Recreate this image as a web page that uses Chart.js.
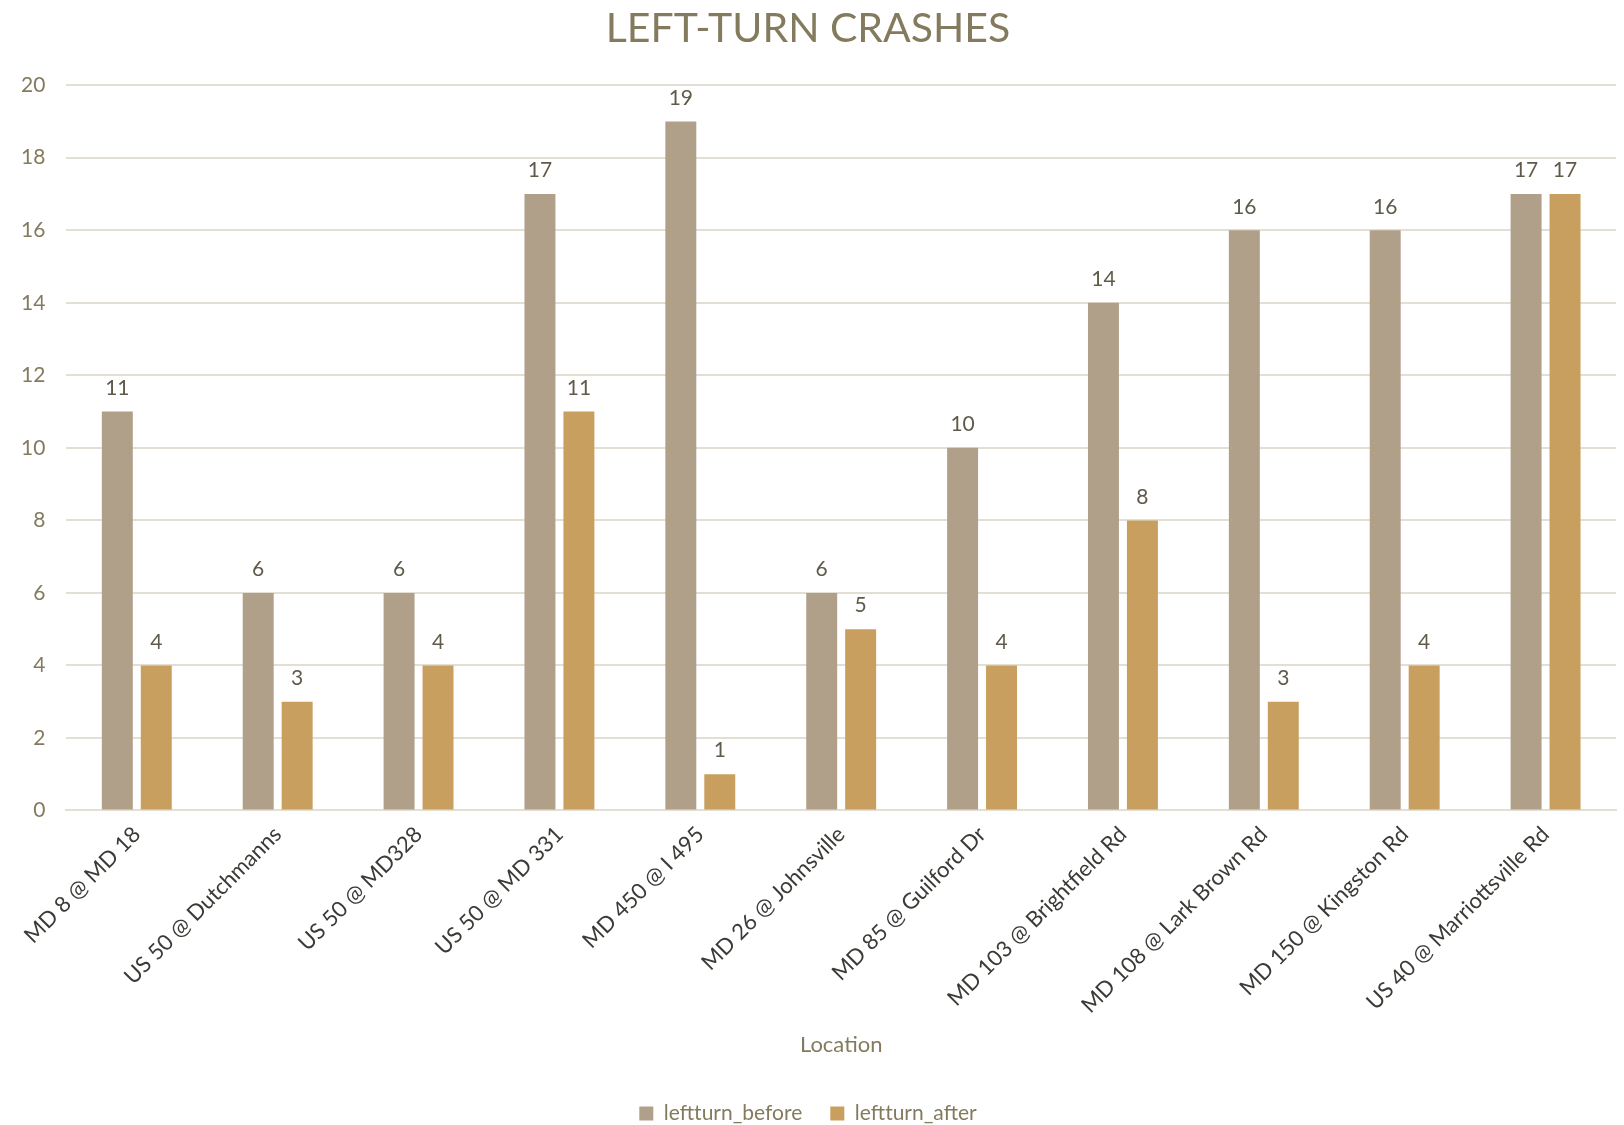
<!DOCTYPE html>
<html>
<head>
<meta charset="utf-8">
<title>Left-turn crashes</title>
<script src="https://cdn.jsdelivr.net/npm/chart.js@4/dist/chart.umd.min.js"></script>
<style>
  html, body { margin: 0; padding: 0; background: #fff; }
  #wrap { width: 1624px; height: 1125px; }
</style>
</head>
<body>
<div id="wrap"><canvas id="crashChart" width="1624" height="1125"></canvas></div>
<script>
'use strict';

var locations = [
    'MD 8 @ MD 18', 'US 50 @ Dutchmanns', 'US 50 @ MD328', 'US 50 @ MD 331',
    'MD 450 @ I 495', 'MD 26 @ Johnsville', 'MD 85 @ Guilford Dr',
    'MD 103 @ Brightfield Rd', 'MD 108 @ Lark Brown Rd', 'MD 150 @ Kingston Rd',
    'US 40 @ Marriottsville Rd'
];
var leftturnBefore = [11, 6, 6, 17, 19, 6, 10, 14, 16, 16, 17];
var leftturnAfter = [4, 3, 4, 11, 1, 5, 4, 8, 3, 4, 17];
var yTicks = [0, 2, 4, 6, 8, 10, 12, 14, 16, 18, 20];

var fontFamily = 'Lato, "Noto Sans", sans-serif';

// draw the value above each bar
var valueLabels = {
    id: 'valueLabels',
    afterDatasetsDraw: function (chart) {
        var ctx = chart.ctx;
        ctx.save();
        ctx.font = '21px ' + fontFamily;
        ctx.fillStyle = '#5f5a4a';
        ctx.textAlign = 'center';
        ctx.textBaseline = 'bottom';
        chart.data.datasets.forEach(function (ds, i) {
            var meta = chart.getDatasetMeta(i);
            meta.data.forEach(function (bar, j) {
                ctx.fillText(ds.data[j], bar.x, bar.y - 13);
            });
        });
        ctx.restore();
    }
};

var ctx = document.getElementById('crashChart');
var chart = new Chart(ctx, {
    type: 'bar',
    data: {
        labels: locations,
        datasets: [{
            label: 'leftturn_before',
            data: leftturnBefore,
            backgroundColor: '#b0a08a',
            categoryPercentage: 0.553,
            barPercentage: 0.795
        }, {
            label: 'leftturn_after',
            data: leftturnAfter,
            backgroundColor: '#c89f5e',
            categoryPercentage: 0.553,
            barPercentage: 0.795
        }]
    },
    options: {
        responsive: false,
        animation: false,
        layout: { padding: { left: 0, right: 8, top: 0, bottom: 0 } },
        plugins: {
            title: {
                display: true,
                text: 'LEFT-TURN CRASHES',
                color: '#847b5e',
                font: { family: fontFamily, size: 41, weight: 'normal' },
                padding: { top: 4, bottom: 32 }
            },
            legend: {
                position: 'bottom',
                maxHeight: 50,
                labels: {
                    color: '#847b5e',
                    font: { family: fontFamily, size: 21 },
                    boxWidth: 14,
                    boxHeight: 14,
                    padding: 28
                }
            },
            tooltip: { enabled: false }
        },
        scales: {
            x: {
                grid: { display: false },
                border: { color: '#e3e0d3', width: 2 },
                ticks: {
                    color: '#3b3a36',
                    font: { family: fontFamily, size: 22 },
                    minRotation: 45,
                    maxRotation: 45,
                    autoSkip: false
                },
                title: {
                    display: true,
                    text: 'Location',
                    color: '#847b5e',
                    font: { family: fontFamily, size: 22 },
                    padding: { top: 10, bottom: 17 }
                }
            },
            y: {
                min: 0,
                max: 20,
                afterBuildTicks: function (axis) {
                    axis.ticks = yTicks.map(function (v) { return { value: v }; });
                },
                grid: { color: '#e3e0d3', lineWidth: 2, drawTicks: false },
                border: { display: false },
                ticks: {
                    color: '#847b5e',
                    font: { family: fontFamily, size: 21 },
                    padding: 21
                }
            }
        }
    },
    plugins: [valueLabels]
});
</script>
</body>
</html>
